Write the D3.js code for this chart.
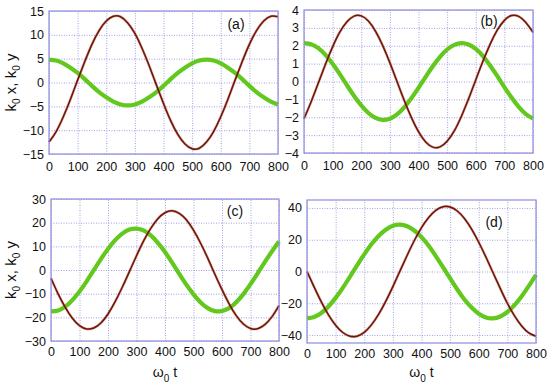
<!DOCTYPE html>
<html>
<head>
<meta charset="utf-8">
<script src="https://cdn.jsdelivr.net/npm/d3@7/dist/d3.min.js"></script>
<style>
  body { margin: 0; background: #fff; }
  svg { font-family: "Liberation Sans", Arial, sans-serif; }
</style>
</head>
<body>
<svg id="chart" width="550" height="389"></svg>
<script>
// time axis shared by all four panels (omega_0 t)
const time = [0, 25, 50, 75, 100, 125, 150, 175, 200, 225, 250, 275, 300, 325, 350, 375, 400,
  425, 450, 475, 500, 525, 550, 575, 600, 625, 650, 675, 700, 725, 750, 775, 800];

// (a)
const brownA = [-12.5, -10.3, -7.2, -3.5, 0.5, 4.4, 8.0, 10.9, 12.9, 13.9, 13.8, 12.5, 10.3, 7.2, 3.5, -0.5, -4.4,
  -8.0, -10.9, -12.9, -13.9, -13.8, -12.5, -10.3, -7.2, -3.5, 0.5, 4.4, 8.0, 10.9, 12.9, 13.9, 13.8];
const greenA = [4.8, 4.6, 4.0, 3.1, 2.0, 0.7, -0.7, -2.0, -3.1, -4.0, -4.6, -4.8, -4.6, -4.0, -3.1, -2.0, -0.7,
  0.7, 2.0, 3.1, 4.0, 4.6, 4.8, 4.6, 4.0, 3.1, 2.0, 0.7, -0.7, -2.0, -3.1, -4.0, -4.6];

// (b)
const brownB = [-2.08, -1.13, -0.09, 0.97, 1.94, 2.76, 3.34, 3.66, 3.67, 3.38, 2.81, 2.01, 1.05, 0.0, -1.05, -2.01, -2.81,
  -3.38, -3.67, -3.66, -3.34, -2.76, -1.94, -0.97, 0.09, 1.13, 2.08, 2.87, 3.42, 3.69, 3.64, 3.30, 2.75];
const greenB = [2.15, 2.09, 1.87, 1.49, 0.99, 0.41, -0.21, -0.81, -1.34, -1.76, -2.04, -2.15, -2.08, -1.84, -1.45, -0.94, -0.36,
  0.26, 0.85, 1.38, 1.79, 2.05, 2.15, 2.07, 1.82, 1.42, 0.90, 0.31, -0.31, -0.90, -1.42, -1.82, -2.07];

// (c)
const brownC = [-3.5, -10.1, -15.8, -20.4, -23.5, -24.9, -24.5, -22.4, -18.6, -13.4, -7.3, -0.7, 6.0, 12.3, 17.6, 21.7, 24.2,
  25.0, 23.9, 21.2, 16.8, 11.3, 5.0, -1.8, -8.3, -14.3, -19.3, -22.8, -24.7, -24.8, -23.1, -19.8, -15.0];
const greenC = [-17.5, -17.1, -15.5, -12.7, -9.1, -4.8, -0.1, 4.6, 8.9, 12.6, 15.4, 17.1, 17.5, 16.7, 14.6, 11.5, 7.6,
  3.1, -1.6, -6.2, -10.3, -13.7, -16.1, -17.4, -17.3, -16.1, -13.6, -10.2, -6.0, -1.4, 3.3, 7.8, 12.0];

// (d)
const brownD = [0.0, -9.8, -19.1, -27.3, -33.8, -38.4, -40.7, -40.7, -38.3, -33.6, -27.0, -18.8, -9.5, 0.4, 10.2, 19.5, 27.6,
  34.0, 38.5, 40.8, 40.6, 38.1, 33.4, 26.7, 18.4, 9.1, -0.8, -10.6, -20.0, -27.9, -34.3, -38.7, -40.8];
const greenD = [-29.5, -28.6, -26.1, -22.0, -16.6, -10.3, -3.3, 3.9, 10.8, 17.1, 22.4, 26.3, 28.8, 29.5, 28.5, 25.8, 21.6,
  16.2, 9.7, 2.7, -4.4, -11.3, -17.6, -22.7, -26.6, -28.9, -29.5, -28.3, -25.5, -21.2, -15.6, -9.1, -2.1];

const xTicks = [0, 100, 200, 300, 400, 500, 600, 700, 800];
const yTicksA = [-15, -10, -5, 0, 5, 10, 15];
const yTicksB = [-4, -3, -2, -1, 0, 1, 2, 3, 4];
const yTicksC = [-30, -20, -10, 0, 10, 20, 30];
const yTicksD = [-40, -20, 0, 20, 40];

const panels = [
  { tag: '(a)', brown: brownA, green: greenA, yDomain: [-15, 15], yTicks: yTicksA,
    box: { l: 49, r: 278, t: 11, b: 154 }, tagPos: [236, 29], yLabel: true, xLabel: false },
  { tag: '(b)', brown: brownB, green: greenB, yDomain: [-4, 4], yTicks: yTicksB,
    box: { l: 304, r: 533, t: 10, b: 153 }, tagPos: [489, 26], yLabel: false, xLabel: false },
  { tag: '(c)', brown: brownC, green: greenC, yDomain: [-30, 30], yTicks: yTicksC,
    box: { l: 51, r: 279, t: 199, b: 341 }, tagPos: [235, 216], yLabel: true, xLabel: true },
  { tag: '(d)', brown: brownD, green: greenD, yDomain: [-45, 45], yTicks: yTicksD,
    box: { l: 307, r: 536, t: 200, b: 343 }, tagPos: [494, 227], yLabel: false, xLabel: true },
];

const frameColor = '#8c8ce0';
const gridColor = '#a0a0e6';
const svg = d3.select('#chart');

panels.forEach(p => {
  const { l, r, t, b } = p.box;
  const x = d3.scaleLinear().domain([0, 800]).range([l, r]);
  const y = d3.scaleLinear().domain(p.yDomain).range([b, t]);
  const g = svg.append('g');

  // grid
  g.append('g')
    .attr('transform', `translate(0,${b})`)
    .call(d3.axisBottom(x).tickValues(xTicks).tickSize(-(b - t)).tickFormat(''))
    .call(s => s.select('.domain').remove())
    .selectAll('line')
    .attr('stroke', gridColor).attr('stroke-dasharray', '1,1.5');
  g.append('g')
    .attr('transform', `translate(${l},0)`)
    .call(d3.axisLeft(y).tickValues(p.yTicks).tickSize(-(r - l)).tickFormat(''))
    .call(s => s.select('.domain').remove())
    .selectAll('line')
    .attr('stroke', gridColor).attr('stroke-dasharray', '1,1.5');

  // tick labels
  const xa = g.append('g')
    .attr('transform', `translate(0,${b})`)
    .call(d3.axisBottom(x).tickValues(xTicks).tickSize(0).tickPadding(p.xLabel ? 6 : 8).tickFormat(d3.format('d')));
  xa.select('.domain').remove();
  xa.selectAll('text').attr('font-size', 12.5).attr('fill', '#111').attr('font-family', '"Liberation Sans", Arial, sans-serif');

  const ya = g.append('g')
    .attr('transform', `translate(${l},0)`)
    .call(d3.axisLeft(y).tickValues(p.yTicks).tickSize(0).tickPadding(5).tickFormat(d3.format('d')));
  ya.select('.domain').remove();
  ya.selectAll('text').attr('font-size', 12.5).attr('fill', '#111').attr('font-family', '"Liberation Sans", Arial, sans-serif');

  // curves
  const line = vals => d3.line()
    .x((d, i) => x(time[i]))
    .y(d => y(d))
    .curve(d3.curveNatural)(vals);

  g.append('path').attr('d', line(p.green))
    .attr('fill', 'none').attr('stroke', '#62c81e').attr('stroke-width', 4.2);
  g.append('path').attr('d', line(p.brown))
    .attr('fill', 'none').attr('stroke', '#c86a5a').attr('stroke-width', 2.6).attr('stroke-opacity', 0.6);
  g.append('path').attr('d', line(p.brown))
    .attr('fill', 'none').attr('stroke', '#6b1608').attr('stroke-width', 1.5);

  // frame
  g.append('rect')
    .attr('x', l).attr('y', t).attr('width', r - l).attr('height', b - t)
    .attr('fill', 'none').attr('stroke', frameColor).attr('stroke-width', 1.2);

  g.append('text')
    .attr('x', p.tagPos[0]).attr('y', p.tagPos[1])
    .attr('text-anchor', 'middle').attr('font-size', 14).attr('fill', '#111')
    .text(p.tag);

  if (p.yLabel) {
    const cy = (t + b) / 2;
    const yl = g.append('text')
      .attr('transform', `translate(16,${cy}) rotate(-90)`)
      .attr('text-anchor', 'middle').attr('font-size', 15).attr('fill', '#111');
    yl.append('tspan').text('k');
    yl.append('tspan').attr('dy', 4).attr('font-size', 10).text('0');
    yl.append('tspan').attr('dy', -4).text(' x, k');
    yl.append('tspan').attr('dy', 4).attr('font-size', 10).text('0');
    yl.append('tspan').attr('dy', -4).text(' y');
  }
  if (p.xLabel) {
    const xl = g.append('text')
      .attr('x', (l + r) / 2).attr('y', 377)
      .attr('text-anchor', 'middle').attr('font-size', 14).attr('fill', '#111');
    xl.append('tspan').text('ω');
    xl.append('tspan').attr('dy', 5).attr('font-size', 10).text('0');
    xl.append('tspan').attr('dy', -5).text(' t');
  }
});
</script>
</body>
</html>
